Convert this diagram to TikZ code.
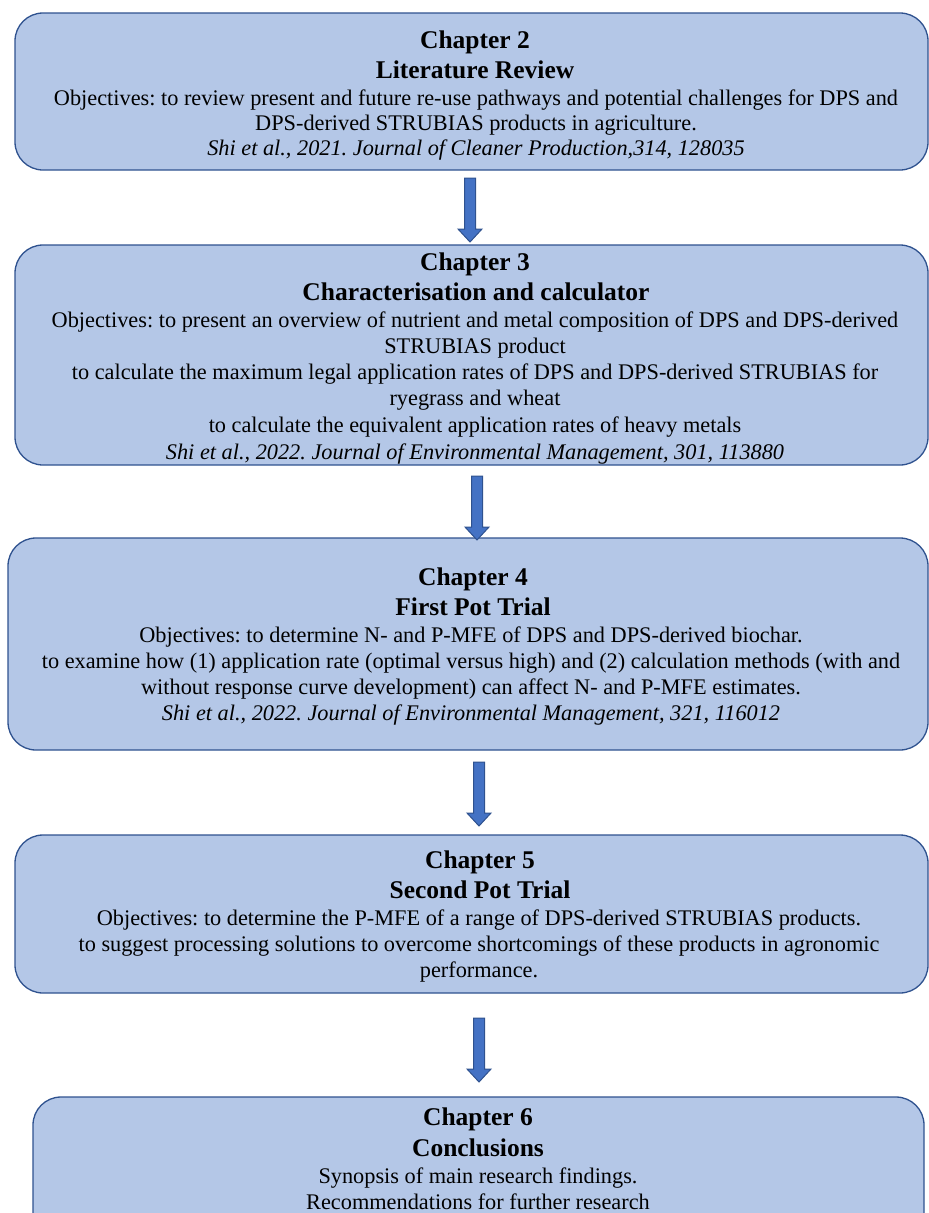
\documentclass[tikz,border=0pt]{standalone}
\usepackage{fontspec}
\setmainfont{Liberation Serif}
\frenchspacing
\definecolor{boxfill}{HTML}{B4C7E7}
\definecolor{boxline}{HTML}{2F528F}
\definecolor{arrfill}{HTML}{4472C4}
\tikzset{
  chbox/.style={draw=boxline, fill=boxfill, line width=1.3pt, rounded corners=28pt, inner sep=0pt},
  ttl/.style={anchor=base, inner sep=0pt, font=\fontsize{25.5}{30}\selectfont\bfseries},
  bdy/.style={anchor=base, inner sep=0pt, font=\fontsize{22.3}{26}\selectfont},
  cit/.style={anchor=base, inner sep=0pt, font=\fontsize{22.3}{26}\selectfont\itshape},
  arrowstyle/.style={draw=boxline, fill=arrfill, line width=1pt, line join=miter},
  pics/downarr/.style={code={
    \draw[arrowstyle] (-5.5,0) -- (5.5,0) -- (5.5,51) -- (12,51) -- (0,64) -- (-12,51) -- (-5.5,51) -- cycle;}}
}
\begin{document}
\begin{tikzpicture}[x=1pt, y=-1pt]
\useasboundingbox (0,0) rectangle (929,1213);
\clip (0,0) rectangle (929,1213);
% boxes
\draw[chbox] (15,13) rectangle (928,170);
\draw[chbox] (15,245) rectangle (928,465);
\draw[chbox] (8,538) rectangle (928,750);
\draw[chbox] (15,835) rectangle (928,993);
\draw[chbox] (33,1097) rectangle (924,1240);
% arrows
\pic at (470,178) {downarr};
\pic at (477,476) {downarr};
\pic at (479,762) {downarr};
\pic at (479,1018) {downarr};
% box 1
\node[ttl] (t1a) at (475,48) {Chapter 2};
\node[ttl] (t1b) at (475,78) {Literature Review};
\node[bdy] (t1c) at (476,105) {Objectives: to review present and future re-use pathways and potential challenges for DPS and};
\node[bdy] (t1d) at (476,130) {DPS-derived STRUBIAS products in agriculture.};
\node[cit] (t1e) at (476,155) {Shi et al., 2021. Journal of Cleaner Production,314, 128035};
% box 2
\node[ttl] (t2a) at (475,270) {Chapter 3};
\node[ttl] (t2b) at (476,300) {Characterisation and calculator};
\node[bdy] (t2c) at (475,327) {Objectives: to present an overview of nutrient and metal composition of DPS and DPS-derived};
\node[bdy] (t2d) at (475,353) {STRUBIAS product};
\node[bdy] (t2e) at (475,379) {to calculate the maximum legal application rates of DPS and DPS-derived STRUBIAS for};
\node[bdy] (t2f) at (475,405) {ryegrass and wheat};
\node[bdy] (t2g) at (475,432) {to calculate the equivalent application rates of heavy metals};
\node[cit] (t2h) at (475,459) {Shi et al., 2022. Journal of Environmental Management, 301, 113880};
% box 3
\node[ttl] (t3a) at (473,585) {Chapter 4};
\node[ttl] (t3b) at (473,615) {First Pot Trial};
\node[bdy] (t3c) at (471,642) {Objectives: to determine N- and P-MFE of DPS and DPS-derived biochar.};
\node[bdy] (t3d) at (471,668) {to examine how (1) application rate (optimal versus high) and (2) calculation methods (with and};
\node[bdy] (t3e) at (471,694) {without response curve development) can affect N- and P-MFE estimates.};
\node[cit] (t3f) at (471,720) {Shi et al., 2022. Journal of Environmental Management, 321, 116012};
% box 4
\node[ttl] (t4a) at (480,868) {Chapter 5};
\node[ttl] (t4b) at (480,898) {Second Pot Trial};
\node[bdy] (t4c) at (479,925) {Objectives: to determine the P-MFE of a range of DPS-derived STRUBIAS products.};
\node[bdy] (t4d) at (479,951) {to suggest processing solutions to overcome shortcomings of these products in agronomic};
\node[bdy] (t4e) at (479,977) {performance.};
% box 5
\node[ttl] (t5a) at (478,1125) {Chapter 6};
\node[ttl] (t5b) at (478,1156) {Conclusions};
\node[bdy] (t5c) at (478,1183) {Synopsis of main research findings.};
\node[bdy] (t5d) at (478,1209) {Recommendations for further research};
\end{tikzpicture}
\end{document}
